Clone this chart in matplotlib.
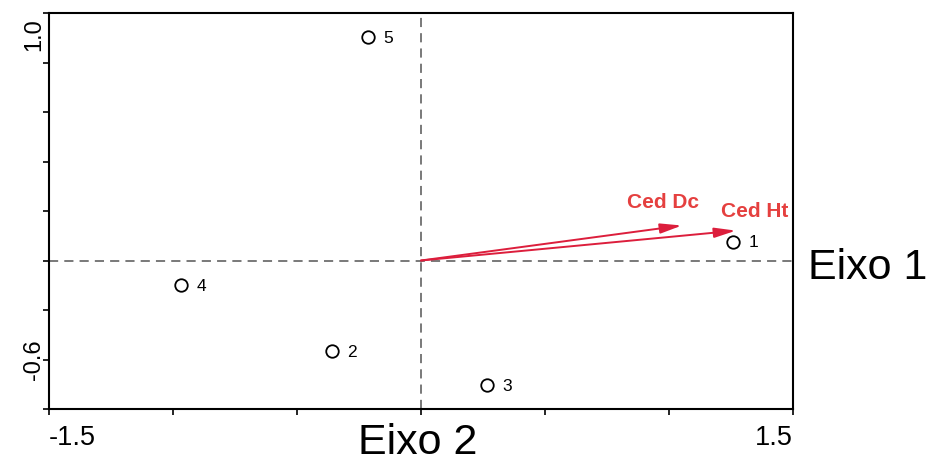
import numpy as np
import matplotlib
matplotlib.use("Agg")
from matplotlib import pyplot as plt
from matplotlib.transforms import blended_transform_factory, offset_copy

# site scores (Eixo 2 on x, Eixo 1 on y)
site_labels = ["1", "2", "3", "4", "5"]
site_x = [1.258, -0.359, 0.266, -0.968, -0.214]
site_y = [0.115, -0.550, -0.756, -0.151, 1.354]

# variable arrows
var_names = ["Ced Dc", "Ced Ht"]
var_x = [1.052, 1.270]
var_y = [0.212, 0.181]

plt.rcParams["font.family"] = ["Liberation Sans", "DejaVu Sans"]

fig = plt.figure(figsize=(9.29, 4.65), dpi=100)
ax = fig.add_axes([49 / 929, 1 - 409 / 465, (793 - 49) / 929, (409 - 13) / 465])
ax.set_xlim(-1.5, 1.5)
ax.set_ylim(-0.9, 1.5)

ax.axhline(0, color="#555555", lw=1.1, ls=(0, (6, 4)), zorder=1)
ax.axvline(0, color="#555555", lw=1.1, ls=(0, (6, 4)), zorder=1)

arrow_col = "#dc1e3c"
for nx, ny in zip(var_x, var_y):
    ax.annotate("", xy=(nx, ny), xytext=(0, 0),
                arrowprops=dict(arrowstyle="-|>,head_length=1.3,head_width=0.3",
                                color=arrow_col, lw=1.4, shrinkA=0, shrinkB=0))
text_offsets = [(-0.22, 0.14), (-0.06, 0.115)]
for name, nx, ny, (dx, dy) in zip(var_names, var_x, var_y, text_offsets):
    ax.text(nx + dx, ny + dy, name, color="#e5403f", fontsize=15,
            fontweight="bold", ha="left", va="center")

ax.plot(site_x, site_y, "o", ms=9, mfc="white", mec="black", mew=1.3, zorder=3)
for lab, sx, sy in zip(site_labels, site_x, site_y):
    ax.annotate(lab, (sx, sy), xytext=(11, -1), textcoords="offset points",
                fontsize=12.5, ha="left", va="center")

# ticks: marks every 0.5 / 0.3, labels only at axis ends
ax.set_xticks(np.arange(-1.5, 1.51, 0.5))
ax.set_yticks(np.arange(-0.9, 1.51, 0.3))
ax.set_xticklabels([])
ax.set_yticklabels([])
ax.tick_params(direction="out", length=4, width=1.2)
for s in ax.spines.values():
    s.set_linewidth(1.5)

tx = blended_transform_factory(ax.transData, ax.transAxes)
ax.text(-1.5, -0.04, "-1.5", transform=tx, ha="left", va="top", fontsize=19.5)
ax.text(1.5, -0.04, "1.5", transform=tx, ha="right", va="top", fontsize=19.5)
ty = offset_copy(blended_transform_factory(ax.transAxes, ax.transData),
                 fig=fig, x=-4, y=0, units="dots")
ax.text(0, -0.6, "-0.6", transform=ty, ha="right", va="center",
        rotation=90, fontsize=17)
ax.text(0, 1.47, "1.0", transform=ty, ha="right", va="top",
        rotation=90, fontsize=17)

fig.text(418 / 929, 1 - 443 / 465, "Eixo 2", ha="center", va="center", fontsize=31)
fig.text(868 / 929, 1 - 268 / 465, "Eixo 1", ha="center", va="center", fontsize=31)

fig.savefig("out.png", dpi=100)
